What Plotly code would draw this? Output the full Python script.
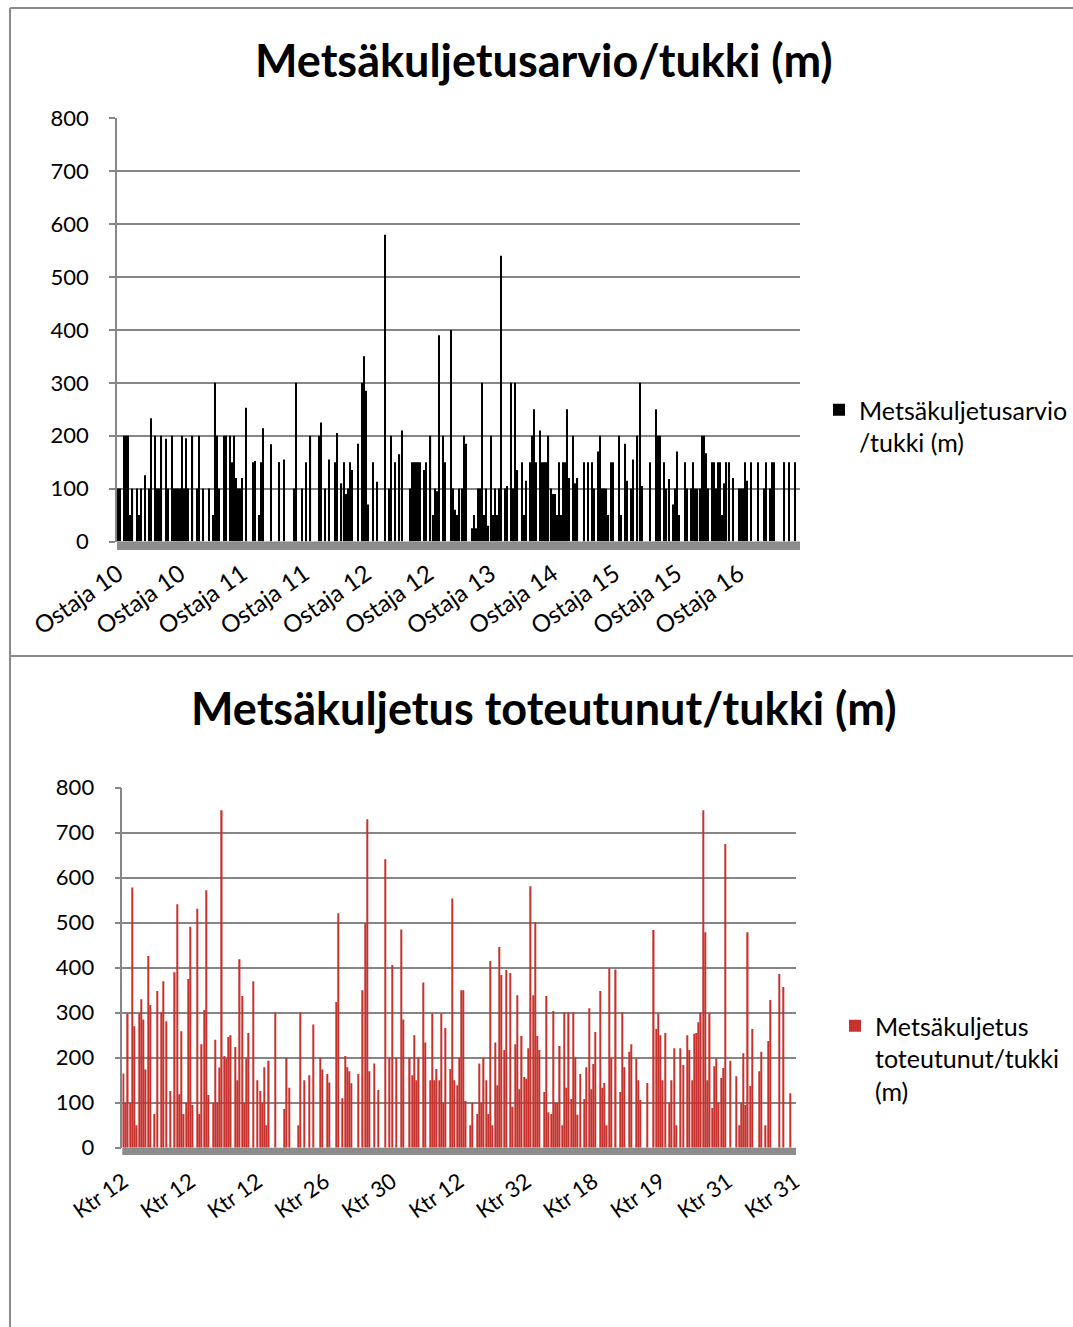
import plotly.graph_objects as go

W, H = 1073, 1327

top_title = "Metsäkuljetusarvio/tukki (m)"
bottom_title = "Metsäkuljetus toteutunut/tukki (m)"
top_series_name = "Metsäkuljetusarvio<br>/tukki (m)"
bottom_series_name = "Metsäkuljetus<br>toteutunut/tukki<br>(m)"

top_tick_labels = ["Ostaja 10", "Ostaja 10", "Ostaja 11", "Ostaja 11", "Ostaja 12",
                   "Ostaja 12", "Ostaja 13", "Ostaja 14", "Ostaja 15", "Ostaja 15",
                   "Ostaja 16"]
bottom_tick_labels = ["Ktr 12", "Ktr 12", "Ktr 12", "Ktr 26", "Ktr 30", "Ktr 12",
                      "Ktr 32", "Ktr 18", "Ktr 19", "Ktr 31", "Ktr 31"]
label_every = 30
y_ticks = [0, 100, 200, 300, 400, 500, 600, 700, 800]

top_values = [
    100, 100, 0, 200, 200, 200, 50, 100, 0, 100,
    50, 100, 0, 125, 0, 100, 233, 0, 200, 100,
    100, 200, 0, 194, 100, 0, 200, 100, 100, 100,
    100, 200, 100, 195, 100, 0, 200, 0, 100, 200,
    0, 100, 0, 0, 100, 0, 50, 300, 200, 100,
    0, 200, 200, 0, 200, 150, 200, 120, 100, 100,
    120, 0, 253, 0, 0, 150, 152, 0, 50, 150,
    214, 0, 0, 0, 184, 0, 0, 0, 150, 0,
    155, 0, 0, 0, 0, 100, 300, 0, 0, 100,
    0, 150, 0, 200, 0, 0, 0, 200, 225, 0,
    100, 0, 155, 0, 0, 150, 205, 0, 110, 150,
    90, 100, 150, 135, 0, 0, 185, 0, 300, 350,
    285, 70, 0, 150, 0, 113, 0, 0, 0, 580,
    0, 100, 200, 0, 150, 0, 165, 210, 0, 0,
    0, 100, 150, 150, 150, 150, 150, 0, 135, 150,
    0, 200, 50, 100, 95, 390, 0, 200, 150, 0,
    0, 400, 100, 60, 50, 100, 100, 200, 185, 0,
    0, 25, 50, 25, 100, 100, 300, 50, 100, 30,
    200, 50, 100, 50, 100, 540, 0, 100, 105, 0,
    300, 100, 300, 135, 0, 150, 50, 115, 0, 150,
    200, 250, 150, 0, 210, 150, 150, 150, 200, 100,
    90, 90, 50, 150, 50, 150, 150, 250, 120, 0,
    200, 110, 120, 0, 0, 150, 0, 150, 0, 150,
    100, 0, 170, 200, 100, 100, 100, 50, 150, 150,
    0, 0, 200, 50, 0, 185, 115, 0, 100, 155,
    0, 200, 300, 105, 0, 0, 0, 150, 0, 0,
    250, 200, 200, 0, 150, 100, 118, 0, 70, 100,
    170, 50, 0, 0, 150, 100, 0, 100, 150, 100,
    100, 100, 200, 200, 167, 100, 0, 150, 150, 100,
    150, 150, 50, 110, 150, 150, 0, 120, 0, 0,
    100, 100, 100, 150, 115, 0, 150, 0, 0, 150,
    0, 0, 100, 150, 0, 100, 150, 150, 0, 0,
    0, 0, 150, 0, 150, 0, 0, 150, 0, 0,
]

bottom_values = [
    165, 100, 298, 100, 578, 270, 50, 298, 330, 285,
    174, 426, 317, 0, 75, 348, 0, 301, 370, 281,
    0, 126, 0, 390, 541, 119, 259, 75, 100, 375,
    491, 95, 0, 531, 75, 230, 306, 572, 117, 0,
    100, 240, 100, 178, 750, 204, 198, 246, 250, 0,
    224, 150, 419, 337, 100, 198, 255, 0, 370, 0,
    150, 126, 100, 179, 50, 193, 0, 0, 301, 0,
    0, 0, 86, 200, 133, 0, 0, 0, 50, 301,
    0, 150, 0, 161, 0, 274, 0, 0, 200, 174,
    0, 164, 145, 0, 0, 324, 521, 0, 110, 204,
    179, 170, 143, 0, 0, 164, 0, 350, 499, 730,
    170, 0, 187, 0, 128, 0, 0, 641, 0, 200,
    406, 0, 200, 0, 485, 285, 0, 0, 200, 161,
    250, 150, 200, 0, 367, 234, 0, 150, 298, 150,
    175, 150, 298, 100, 266, 0, 175, 554, 150, 139,
    200, 350, 350, 104, 0, 50, 100, 0, 75, 187,
    100, 200, 150, 75, 415, 50, 234, 139, 446, 384,
    217, 395, 0, 388, 91, 230, 339, 130, 248, 157,
    153, 221, 581, 339, 501, 248, 217, 0, 124, 337,
    79, 75, 304, 100, 100, 226, 50, 301, 133, 301,
    108, 301, 200, 73, 164, 0, 108, 179, 310, 130,
    186, 257, 0, 348, 133, 144, 50, 399, 200, 0,
    396, 0, 124, 301, 179, 0, 213, 230, 0, 198,
    150, 106, 0, 0, 144, 0, 0, 484, 264, 298,
    250, 150, 255, 0, 100, 150, 221, 50, 0, 221,
    184, 0, 250, 217, 150, 253, 255, 279, 300, 750,
    479, 150, 299, 88, 181, 198, 100, 155, 177, 675,
    0, 193, 0, 0, 159, 50, 100, 210, 95, 479,
    137, 264, 0, 0, 170, 213, 0, 50, 237, 328,
    0, 0, 0, 386, 0, 357, 0, 0, 121, 0,
    0,
]

FONT = "Lato"
GRID = "#868686"
FRAME = "#8a8a8a"
RED = "#c6322e"


def fx(px):
    return px / W


def fy(py):
    return 1 - py / H


top_x = list(range(len(top_values)))
bottom_x = list(range(len(bottom_values)))

fig = go.Figure()
fig.add_trace(go.Bar(
    x=top_x, y=top_values, name=top_series_name,
    marker=dict(color="#000000", line=dict(width=0)),
    xaxis="x", yaxis="y", legend="legend",
))
fig.add_trace(go.Bar(
    x=bottom_x, y=bottom_values, name=bottom_series_name,
    marker=dict(color=RED, line=dict(width=0)),
    xaxis="x2", yaxis="y2", legend="legend2",
))

top_ticks = list(range(0, len(top_values), label_every))[:len(top_tick_labels)]
bottom_ticks = list(range(0, len(bottom_values), label_every))[:len(bottom_tick_labels)]

common_x = dict(showgrid=False, zeroline=False, showline=False, ticks="",
                tickangle=-35, tickmode="array", automargin=False)
common_y = dict(range=[0, 800], tickmode="array", tickvals=y_ticks,
                showgrid=True, gridcolor=GRID, gridwidth=1.5,
                showline=True, linecolor=GRID, linewidth=1.5,
                ticks="outside", ticklen=6, tickcolor=GRID, tickwidth=1.5,
                zeroline=False, ticklabelstandoff=16, automargin=False,
                tickfont=dict(family=FONT, size=22, color="#000"))

fig.update_layout(
    width=W, height=H, autosize=False,
    margin=dict(l=0, r=0, t=0, b=0, pad=0, autoexpand=False),
    paper_bgcolor="white", plot_bgcolor="white",
    bargap=0.45,
    font=dict(family=FONT, color="#000"),
    xaxis=dict(domain=[fx(117), fx(800)], range=[-0.5, len(top_values) - 0.5],
               tickvals=top_ticks, ticktext=top_tick_labels, anchor="y",
               tickfont=dict(family=FONT, size=24, color="#000"), ticklabelstandoff=13,
               **common_x),
    yaxis=dict(domain=[fy(541.5), fy(118.3)], anchor="x", **common_y),
    xaxis2=dict(domain=[fx(122.3), fx(796)], range=[-0.5, len(bottom_values) - 0.5],
                tickvals=bottom_ticks, ticktext=bottom_tick_labels, anchor="y2",
                tickfont=dict(family=FONT, size=22, color="#000"), ticklabelstandoff=16,
                **common_x),
    yaxis2=dict(domain=[fy(1147.7), fy(787.7)], anchor="x2", **common_y),
    legend=dict(x=fx(819), y=fy(387), xanchor="left", yanchor="top",
                font=dict(family=FONT, size=25, color="#000"),
                bgcolor="rgba(0,0,0,0)", valign="top", itemwidth=30),
    legend2=dict(x=fx(835), y=fy(1003), xanchor="left", yanchor="top",
                 font=dict(family=FONT, size=25, color="#000"),
                 bgcolor="rgba(0,0,0,0)", valign="top", itemwidth=30),
    showlegend=True,
)

fig.add_annotation(text=top_title, x=fx(544), y=fy(60), xref="paper", yref="paper",
                   showarrow=False, xanchor="center", yanchor="middle",
                   font=dict(family=FONT, size=45, color="#000", weight="bold"))
fig.add_annotation(text=bottom_title, x=fx(544), y=fy(708), xref="paper", yref="paper",
                   showarrow=False, xanchor="center", yanchor="middle",
                   font=dict(family=FONT, size=45, color="#000", weight="bold"))

# chart frames
fig.add_shape(type="line", xref="paper", yref="paper", x0=fx(10), x1=fx(10), y0=fy(8), y1=fy(1327),
              line=dict(color=FRAME, width=2))
fig.add_shape(type="line", xref="paper", yref="paper", x0=fx(10), x1=1, y0=fy(8), y1=fy(8),
              line=dict(color=FRAME, width=2))
fig.add_shape(type="line", xref="paper", yref="paper", x0=fx(10), x1=1, y0=fy(656), y1=fy(656),
              line=dict(color=FRAME, width=2))
# 3-D floors under the columns
fig.add_shape(type="rect", xref="paper", yref="paper", x0=fx(117), x1=fx(800),
              y0=fy(550), y1=fy(541.5), fillcolor="#8c8c8c", line=dict(width=0), layer="above")
fig.add_shape(type="rect", xref="paper", yref="paper", x0=fx(122.3), x1=fx(796),
              y0=fy(1155), y1=fy(1147.7), fillcolor="#8c8c8c", line=dict(width=0), layer="above")

fig.write_html("out.html")
